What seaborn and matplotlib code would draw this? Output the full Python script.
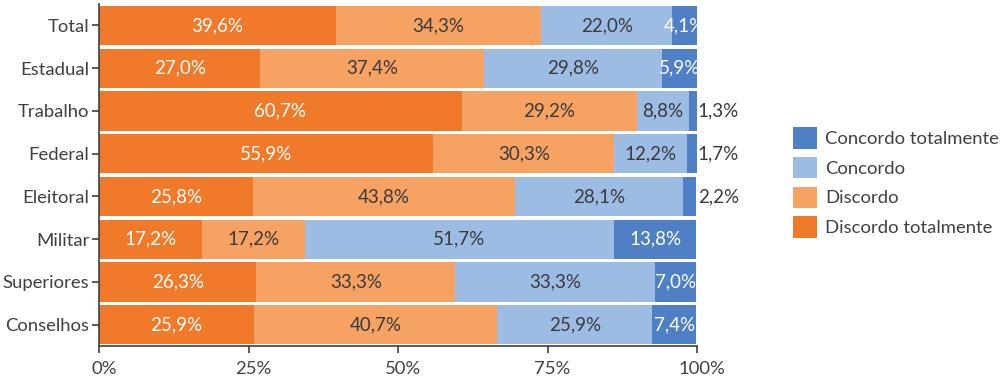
import matplotlib
matplotlib.use("Agg")
import matplotlib.pyplot as plt
import matplotlib.transforms as mtransforms
import seaborn as sns
import pandas as pd
import numpy as np
from matplotlib.patches import Patch

categories = ["Total", "Estadual", "Trabalho", "Federal", "Eleitoral", "Militar", "Superiores", "Conselhos"]
discordo_totalmente = [39.6, 27.0, 60.7, 55.9, 25.8, 17.2, 26.3, 25.9]
discordo = [34.3, 37.4, 29.2, 30.3, 43.8, 17.2, 33.3, 40.7]
concordo = [22.0, 29.8, 8.8, 12.2, 28.1, 51.7, 33.3, 25.9]
concordo_totalmente = [4.1, 5.9, 1.3, 1.7, 2.2, 13.8, 7.0, 7.4]
xticks = [0, 25, 50, 75, 100]

series_names = ["Discordo totalmente", "Discordo", "Concordo", "Concordo totalmente"]
colors = {"Discordo totalmente": "#F07A2A",
          "Discordo": "#F5A263",
          "Concordo": "#9DBCE4",
          "Concordo totalmente": "#4F7FC5"}
text_colors = {"Discordo totalmente": "white", "Discordo": "#3a3a3a",
               "Concordo": "#3a3a3a", "Concordo totalmente": "white"}

sns.set_theme(style="white")
plt.rcParams['font.family'] = ['Lato', 'DejaVu Sans']

df = pd.DataFrame({"cat": categories,
                   "Discordo totalmente": discordo_totalmente,
                   "Discordo": discordo,
                   "Concordo": concordo,
                   "Concordo totalmente": concordo_totalmente})

fig = plt.figure(figsize=(10, 3.89), dpi=100)
ax = fig.add_axes([0.099, 0.1105, 0.598, 0.879])

vals = df[series_names].values
cum = np.cumsum(vals, axis=1)
# draw cumulative from largest to smallest (stacking)
for i in range(len(series_names) - 1, -1, -1):
    name = series_names[i]
    tmp = pd.DataFrame({"cat": categories, "v": cum[:, i]})
    sns.barplot(data=tmp, x="v", y="cat", orient="h", color=colors[name],
                saturation=1, width=0.92, ax=ax, linewidth=0, order=categories)

for r in range(len(categories)):
    left = 0
    for j, name in enumerate(series_names):
        v = vals[r, j]
        label = f"{v:.1f}%".replace(".", ",")
        if v < 3:
            ax.text(100.15, r, label, ha="left", va="center", fontsize=13.5,
                    color="#3a3a3a", clip_on=False)
        else:
            ax.text(left + v / 2, r, label, ha="center", va="center", fontsize=13.5,
                    color=text_colors[name], clip_on=False)
        left += v

ax.set_xlim(0, 100)
ax.set_ylim(7.5, -0.5)
ax.set_xticks(xticks)
ax.set_xticklabels([f"{t}%" for t in xticks])
ax.set_xlabel("")
ax.set_ylabel("")
for s in ["top", "right"]:
    ax.spines[s].set_visible(False)
for s in ["left", "bottom"]:
    ax.spines[s].set_color("#404040")
    ax.spines[s].set_linewidth(1.2)
ax.tick_params(axis="both", which="both", length=5, width=1.2, color="#404040",
               labelsize=13.3, labelcolor="#404040", direction="out")
ax.tick_params(axis="y", pad=2)
ax.tick_params(axis="x", pad=6)
ax.tick_params(left=True, bottom=True)

shift = mtransforms.ScaledTranslation(5 / 100, 0, fig.dpi_scale_trans)
for lbl in ax.get_xticklabels():
    lbl.set_transform(lbl.get_transform() + shift)

handles = [Patch(facecolor=colors[n], edgecolor="none") for n in reversed(series_names)]
labels = list(reversed(series_names))
fig.legend(handles, labels, loc="center left", bbox_to_anchor=(0.776, 0.531),
           frameon=False, fontsize=13.3, handlelength=1.3, handleheight=1.4,
           handletextpad=0.45, labelspacing=0.45, labelcolor="#404040")

fig.savefig("out.png", dpi=100)
